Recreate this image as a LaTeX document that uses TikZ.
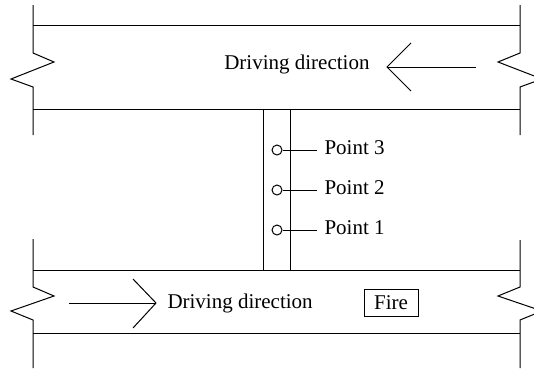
\documentclass[tikz,border=0pt]{standalone}
\usepackage{fontspec}
\setmainfont{Liberation Serif}
\begin{document}
\begin{tikzpicture}[x=1pt,y=-1pt,line width=1pt,line join=miter,
  lbl/.style={font=\fontsize{21}{25}\selectfont,inner sep=0pt},
  ptlbl/.style={lbl,anchor=west,inner xsep=7pt,inner ysep=0pt},
  probe/.style={circle,draw,minimum size=10pt,inner sep=0pt},
  firebox/.style={lbl,draw,minimum width=54pt,minimum height=27pt}]
\useasboundingbox (0,0) rectangle (534,372);
\clip (0,0) rectangle (534,372);
% top road
\draw (33,25) -- (520,25);
\draw (33,109) -- (520,109);
\draw (33,5) -- (33,53) -- (54,62) -- (11,79) -- (33,87) -- (33,135);
\draw (520,5) -- (520,53) -- (498,62) -- (542,79) -- (520,87) -- (520,135);
% bottom road
\draw (33,270) -- (520,270);
\draw (33,333) -- (520,333);
\draw (33,239) -- (33,287) -- (54,296) -- (11,311) -- (33,320) -- (33,368);
\draw (520,240) -- (520,287) -- (498,296) -- (542,311) -- (520,320) -- (520,368);
% corridor
\draw (263,109) -- (263,270);
\draw (290,109) -- (290,270);
% top direction
\node[lbl,anchor=east] (dtop) at (370,64) {Driving direction};
\coordinate (ttail) at (476,67);
\coordinate (ttip) at (387,67);
\draw (ttail) -- (ttip);
\draw (411,43) -- (ttip) -- (411,91);
% bottom direction
\node[lbl,anchor=west] (dbot) at (167,303) {Driving direction};
\coordinate (btail) at (69,303);
\coordinate (btip) at (156,303);
\draw (btail) -- (btip);
\draw (133,279) -- (btip) -- (133,328);
% fire
\node[firebox] (fire) at (391,302.5) {Fire};
% points
\node[probe] (p3) at (277,150) {};
\node[probe] (p2) at (277,190) {};
\node[probe] (p1) at (277,230) {};
\node[ptlbl] (l3) at (317,148) {Point 3};
\node[ptlbl] (l2) at (317,188) {Point 2};
\node[ptlbl] (l1) at (317,228) {Point 1};
\draw (p3.east) -- (p3.east -| l3.west);
\draw (p2.east) -- (p2.east -| l2.west);
\draw (p1.east) -- (p1.east -| l1.west);
\end{tikzpicture}
\end{document}
